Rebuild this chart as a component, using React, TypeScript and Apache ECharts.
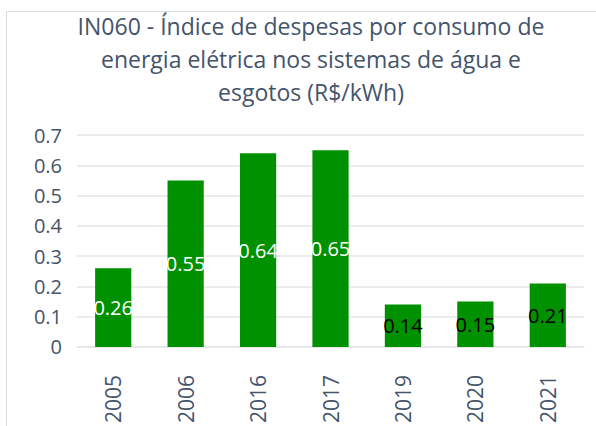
import React, { useEffect, useRef } from "react";
import * as echarts from "echarts";

const categories = ["2005", "2006", "2016", "2017", "2019", "2020", "2021"];
const values = [0.26, 0.55, 0.64, 0.65, 0.14, 0.15, 0.21];
const titleLines = [
  "IN060 - Índice de despesas por consumo de",
  "energia elétrica nos sistemas de água e",
  "esgotos (R$/kWh)",
];

export default function App() {
  const ref = useRef<HTMLDivElement>(null);
  useEffect(() => {
    document.body.style.margin = "0";
    const chart = echarts.init(ref.current!, null, { renderer: "svg" });
    const slate = "#44546A";
    chart.setOption({
      animation: false,
      backgroundColor: "#ffffff",
      title: {
        text: titleLines.join("\n"),
        left: 306,
        top: 4,
        textAlign: "center",
        textStyle: {
          fontFamily: "Open Sans",
          fontSize: 23,
          fontWeight: "normal",
          color: slate,
          lineHeight: 33,
        },
      },
      graphic: [
        {
          type: "rect",
          shape: { x: 6.5, y: 11.5, width: 700, height: 500 },
          style: { fill: "none", stroke: "#d9dce1", lineWidth: 1 },
          silent: true,
          z: -1,
        },
      ],
      grid: { left: 77, right: 12, top: 135, bottom: 79, containLabel: false },
      xAxis: {
        type: "category",
        data: categories,
        axisLine: { show: true, lineStyle: { color: "#e3e6ea", width: 1.5 } },
        axisTick: { show: false },
        axisLabel: {
          rotate: 90,
          margin: 28,
          fontFamily: "Open Sans",
          fontSize: 21,
          color: slate,
        },
      },
      yAxis: {
        type: "value",
        min: 0,
        max: 0.7,
        interval: 0.1,
        axisLine: { show: false },
        axisTick: { show: false },
        splitLine: { lineStyle: { color: "#e3e6ea", width: 1.5 } },
        axisLabel: {
          margin: 15,
          fontFamily: "Open Sans",
          fontSize: 20,
          color: slate,
        },
      },
      series: [
        {
          type: "bar",
          barWidth: "50%",
          data: values.map((v) => ({
            value: v,
            label: { color: v >= 0.25 ? "#ffffff" : "#000000" },
          })),
          itemStyle: { color: "#009100" },
          label: {
            show: true,
            position: "inside",
            fontFamily: "Open Sans",
            fontSize: 20,
            formatter: (p: any) => String(p.value),
          },
        },
      ],
    });
    return () => chart.dispose();
  }, []);
  return <div ref={ref} style={{ width: 596, height: 426 }} />;
}
